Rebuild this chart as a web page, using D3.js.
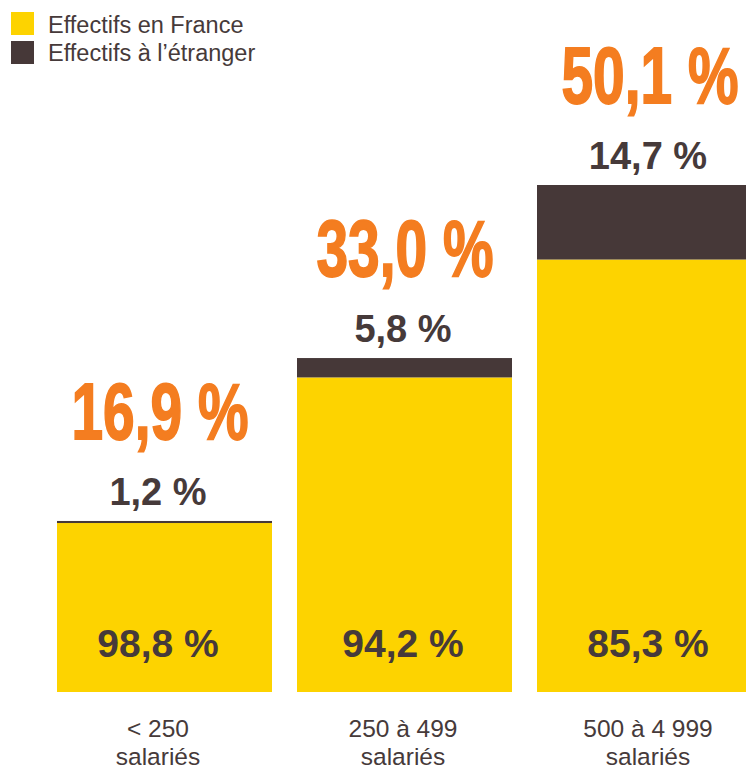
<!DOCTYPE html>
<html>
<head>
<meta charset="utf-8">
<script src="https://cdn.jsdelivr.net/npm/d3@7"></script>
<style>
  html, body { margin: 0; padding: 0; background: #fff; }
  svg { display: block; }
</style>
</head>
<body>
<svg id="chart" width="746" height="771"></svg>
<script>
// ---- data ----
const categories = ["< 250|salariés", "250 à 499|salariés", "500 à 4 999|salariés"];
const totalShare = [16.9, 33.0, 50.1];      // part of total (orange labels / bar height)
const franceShare = [98.8, 94.2, 85.3];     // effectifs en France (% of bar)
const abroadShare = [1.2, 5.8, 14.7];       // effectifs à l'étranger (% of bar)
const legendLabels = ["Effectifs en France", "Effectifs à l’étranger"];

const fmt = v => d3.format(".1f")(v).replace(".", ",") + " %";

const COLORS = { france: "#FDD300", abroad: "#463838", orange: "#F47D20", text: "#463A3A" };
const FONT = "'Liberation Sans', Arial, Helvetica, sans-serif";

const svg = d3.select("#chart");

const x = d3.scaleBand().domain(categories).range([57, 57 + 240 * 2 + 215]).paddingInner(25 / 240).paddingOuter(0);
const xl = d3.scalePoint().domain(categories).range([158, 648]);
const y = d3.scaleLinear().domain([0, 50.1]).range([692, 185]);

const data = categories.map((c, i) => {
  const tot = totalShare[i];
  const fr = tot * franceShare[i] / 100;
  return { c, tot, fr, fShare: franceShare[i], aShare: abroadShare[i] };
});

// bars
const g = svg.append("g");
g.selectAll("rect.fr").data(data).join("rect")
  .attr("x", d => x(d.c)).attr("width", x.bandwidth())
  .attr("y", d => y(d.fr)).attr("height", d => y(0) - y(d.fr))
  .attr("fill", COLORS.france);
g.selectAll("rect.ab").data(data).join("rect")
  .attr("x", d => x(d.c)).attr("width", x.bandwidth())
  .attr("y", d => y(d.tot)).attr("height", d => y(d.fr) - y(d.tot))
  .attr("fill", COLORS.abroad);

// orange total labels (condensed)
const tg = g.selectAll("g.tot").data(data).join("g")
  .attr("transform", d => `translate(${xl(d.c) + 2},${y(d.tot) - 82}) scale(0.72,1)`);
tg.append("text")
  .attr("text-anchor", "middle")
  .attr("font-family", FONT).attr("font-weight", "bold").attr("font-size", 79)
  .attr("fill", COLORS.orange).attr("stroke", COLORS.orange).attr("stroke-width", 1.8)
  .text(d => fmt(d.tot));

// abroad labels
g.selectAll("text.ab").data(data).join("text")
  .attr("x", d => xl(d.c)).attr("y", d => y(d.tot) - 16)
  .attr("text-anchor", "middle")
  .attr("font-family", FONT).attr("font-weight", "bold").attr("font-size", 38)
  .attr("fill", COLORS.text)
  .text(d => fmt(d.aShare));

// france labels
g.selectAll("text.fr").data(data).join("text")
  .attr("x", d => xl(d.c)).attr("y", 657)
  .attr("text-anchor", "middle")
  .attr("font-family", FONT).attr("font-weight", "bold").attr("font-size", 39)
  .attr("fill", COLORS.text)
  .text(d => fmt(d.fShare));

// category labels
const cat = g.selectAll("text.cat").data(categories).join("text")
  .attr("text-anchor", "middle")
  .attr("font-family", FONT).attr("font-size", 24.5)
  .attr("fill", COLORS.text);
cat.each(function(d) {
  const parts = d.split("|");
  d3.select(this).selectAll("tspan").data(parts).join("tspan")
    .attr("x", xl(d)).attr("y", (p, j) => 737 + j * 28).text(p => p);
});

// legend
const legColors = [COLORS.france, COLORS.abroad];
const leg = svg.append("g");
leg.selectAll("rect").data(legendLabels).join("rect")
  .attr("x", 11).attr("y", (d, i) => 12 + i * 29).attr("width", 23).attr("height", 23)
  .attr("fill", (d, i) => legColors[i]);
leg.selectAll("text").data(legendLabels).join("text")
  .attr("x", 48).attr("y", (d, i) => 33 + i * 28)
  .attr("font-family", FONT).attr("font-size", 23.5)
  .attr("fill", COLORS.text)
  .text(d => d);
</script>
</body>
</html>
